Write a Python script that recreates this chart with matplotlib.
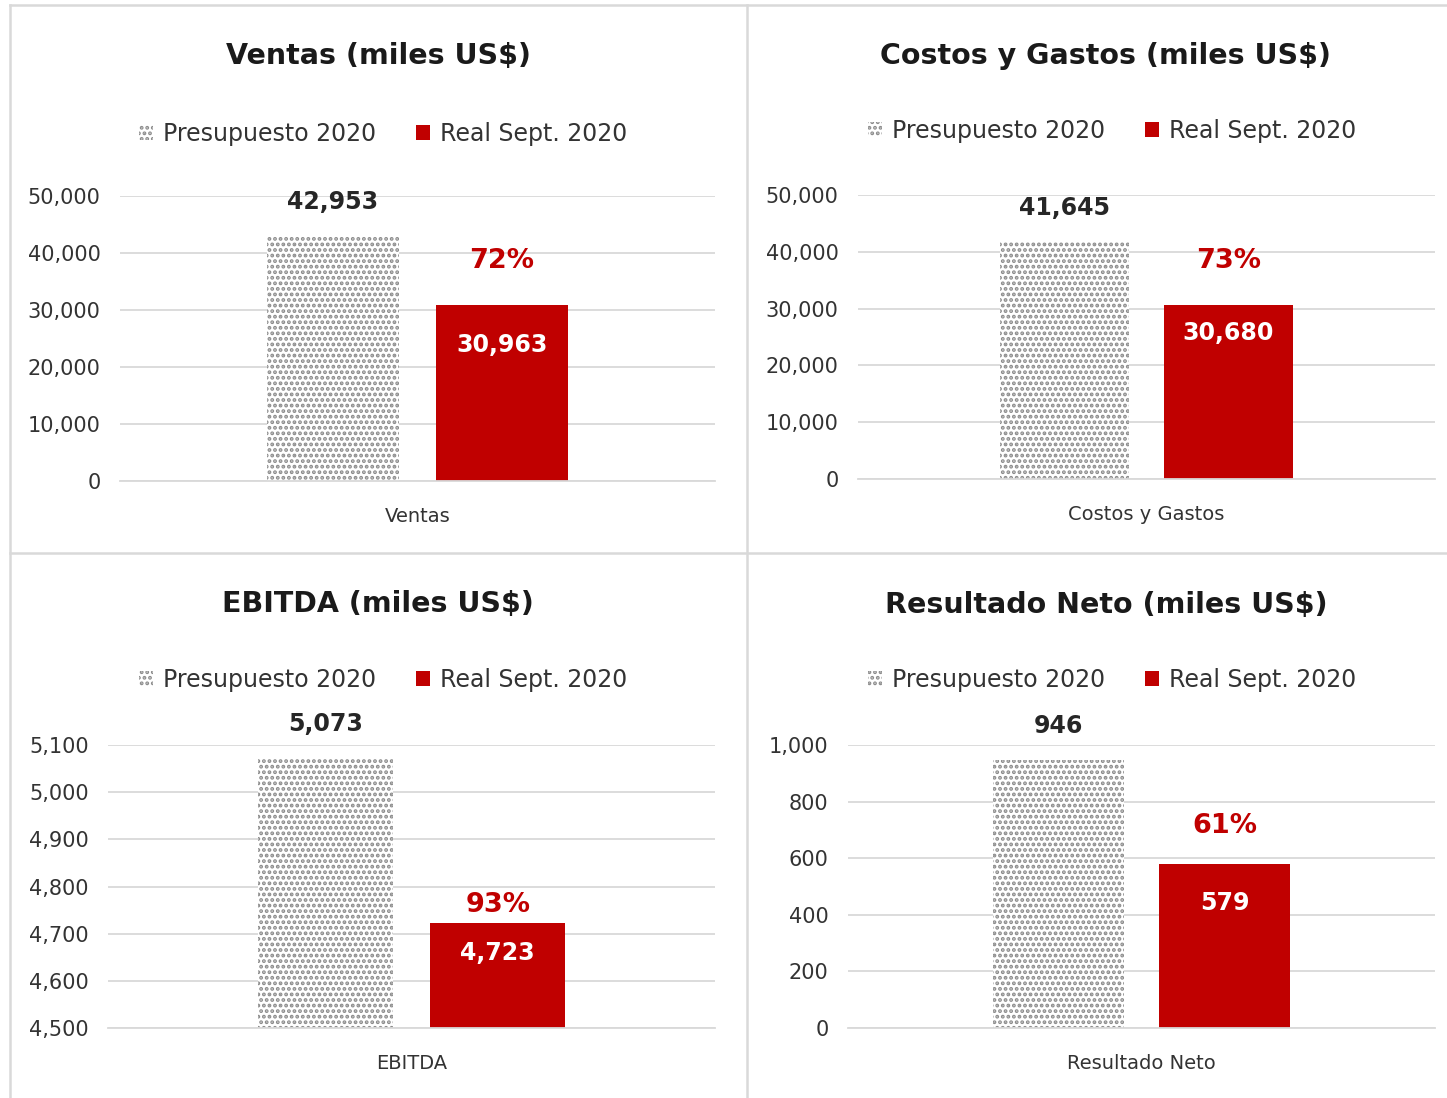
import matplotlib
matplotlib.use("Agg")
import matplotlib.pyplot as plt
from matplotlib.lines import Line2D

plt.rcParams['font.family'] = ['DejaVu Sans']
plt.rcParams['hatch.linewidth'] = 1.9

# ---- data ----
categories = ['Ventas', 'Costos y Gastos', 'EBITDA', 'Resultado Neto']
titles = ['Ventas (miles US$)', 'Costos y Gastos (miles US$)',
          'EBITDA (miles US$)', 'Resultado Neto (miles US$)']
series_names = ['Presupuesto 2020', 'Real Sept. 2020']
presupuesto = [42953, 41645, 5073, 946]
real = [30963, 30680, 4723, 579]
pct_labels = ['72%', '73%', '93%', '61%']
y_min = [0, 0, 4500, 0]
y_max = [50000, 50000, 5100, 1000]
y_step = [10000, 10000, 100, 200]

# ---- layout / style ----
W, H = 1447, 1098
fig = plt.figure(figsize=(W / 100, H / 100), dpi=100)
RED = '#c00000'
DOT = '#8c8c8c'
GRID = '#d9d9d9'
TXT = '#333333'

def fx(px):
    return px / W

def fy(py):
    return 1 - py / H

# axes rectangles in pixel coords: left, right, top(y of max), bottom(y of min)
axes_px = [(120, 715, 196, 481), (858, 1435, 195, 479),
           (108, 715, 745, 1028), (848, 1435, 745, 1028)]
title_pos = [(378, 56), (1106, 56), (378, 604), (1106, 605)]
legend_pos = [(383, 134), (1112, 131), (383, 680), (1112, 680)]
pct_offset = [44, 44, 18, 38]      # px above real bar top
inner_offset = [40, 28, 30, 39]    # px below real bar top

off = 0.142
bw = 0.223

for i in range(4):
    l, r, t, b = axes_px[i]
    ax = fig.add_axes([fx(l), fy(b), fx(r) - fx(l), fy(t) - fy(b)])
    ax.set_xlim(-0.5, 0.5)
    ax.set_ylim(y_min[i], y_max[i])
    ticks = list(range(y_min[i], y_max[i] + 1, y_step[i]))
    ax.set_yticks(ticks)
    ax.set_yticklabels([f'{v:,}' for v in ticks])
    ax.grid(axis='y', color=GRID, linewidth=1.3)
    ax.set_axisbelow(True)
    for s in ['top', 'right', 'left']:
        ax.spines[s].set_visible(False)
    ax.spines['bottom'].set_color(GRID)
    ax.spines['bottom'].set_linewidth(1.3)
    ax.tick_params(axis='y', length=0, labelsize=15, labelcolor=TXT, pad=14)
    ax.set_xticks([0])
    ax.set_xticklabels([categories[i]])
    ax.tick_params(axis='x', length=0, labelsize=14, labelcolor=TXT, pad=19)

    ax.bar(-off, presupuesto[i] - y_min[i], bottom=y_min[i], width=bw,
           color='white', edgecolor=DOT, linewidth=0, hatch='...',
           label=series_names[0])
    ax.bar(off, real[i] - y_min[i], bottom=y_min[i], width=bw,
           color=RED, linewidth=0, label=series_names[1])

    ax.annotate(f'{presupuesto[i]:,}', (-off, presupuesto[i]),
                xytext=(0, 34 * 0.72), textcoords='offset points',
                ha='center', va='center', fontsize=17, fontweight='bold',
                color='#262626')
    ax.annotate(f'{real[i]:,}', (off, real[i]),
                xytext=(0, -inner_offset[i] * 0.72), textcoords='offset points',
                ha='center', va='center', fontsize=17, fontweight='bold',
                color='white')
    ax.annotate(pct_labels[i], (off, real[i]),
                xytext=(0, pct_offset[i] * 0.72), textcoords='offset points',
                ha='center', va='center', fontsize=19.5, fontweight='bold',
                color=RED)

    fig.text(fx(title_pos[i][0]), fy(title_pos[i][1]), titles[i],
             ha='center', va='center', fontsize=20.5, fontweight='bold',
             color='#1a1a1a')
    ax.legend(loc='center', bbox_to_anchor=(fx(legend_pos[i][0]), fy(legend_pos[i][1])),
              bbox_transform=fig.transFigure, ncol=2, frameon=False,
              fontsize=17, handlelength=0.6, handleheight=0.6,
              handletextpad=0.4, columnspacing=1.7, labelcolor=TXT)

# panel borders
for (x0, y0, x1, y1) in [(10, 5, 1447, 5), (10, 5, 10, 1098),
                         (747, 5, 747, 1098), (10, 553, 1447, 553)]:
    fig.add_artist(Line2D([fx(x0), fx(x1)], [fy(y0), fy(y1)],
                          transform=fig.transFigure, color='#d9d9d9', linewidth=1.8))

fig.savefig('out.png', dpi=100)
